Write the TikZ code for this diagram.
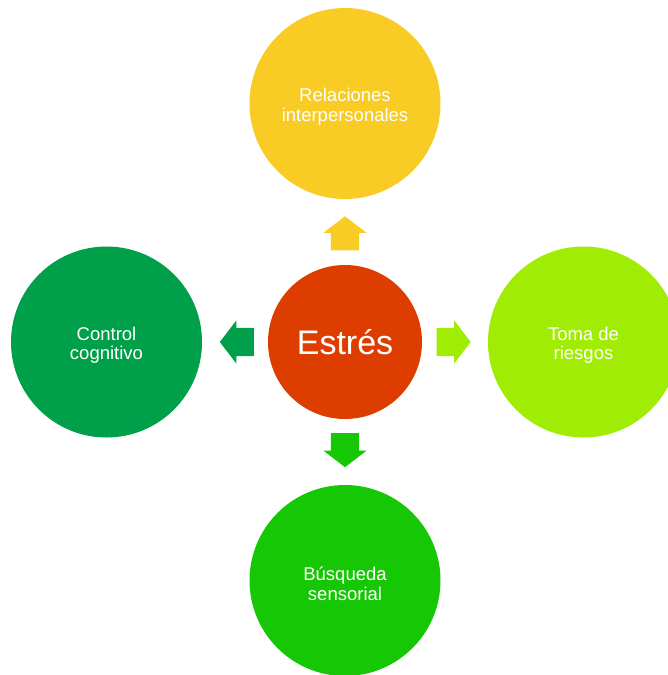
\documentclass[tikz,border=0pt]{standalone}
\usepackage{fontspec}
\setmainfont{Liberation Sans}
\usepackage{tikz}
\usetikzlibrary{shapes,shapes.arrows,calc,positioning}

\definecolor{stressred}{HTML}{DE3D00}
\definecolor{relyellow}{HTML}{F9CB25}
\definecolor{ctrlgreen}{HTML}{009F4A}
\definecolor{risklime}{HTML}{A1EC04}
\definecolor{searchgreen}{HTML}{15C705}
\newcommand{\lowerstrut}{\rule{0pt}{20pt}}

\begin{document}
\begin{tikzpicture}[x=1pt,y=1pt,node distance = 238.5pt]
	  \tikzstyle{bubble}=[circle,draw=none,text=white,minimum size=191pt,inner sep=0pt,
				  align=center,font=\fontsize{18.5}{19.5}\selectfont]
	  \tikzstyle{core}=[circle,draw=none,fill=stressred,text=white,minimum size=154pt,
				  inner sep=0pt,font=\fontsize{34}{40}\selectfont]
	  \tikzstyle{blockarrow}=[single arrow,draw=none,minimum height=34pt,minimum width=43pt,
				  single arrow head extend=7.5pt,single arrow tip angle=105,
				  inner xsep=0pt,inner ysep=14pt,outer sep=0pt]

	\clip (0,0) rectangle (668,-675);

	\node (center_center) [core] at (345,-342) {Estrés};
	\node (center_top) [bubble,fill=relyellow] [above of= center_center] {\lowerstrut Relaciones\\interpersonales};
	\node (left_center) [bubble,fill=ctrlgreen] [left of= center_center] {\lowerstrut Control\\cognitivo};
	\node (right_center) [bubble,fill=risklime] [right of= center_center] {\lowerstrut Toma de\\riesgos};
	\node (center_bottom) [bubble,fill=searchgreen] [below of= center_center] {\lowerstrut Búsqueda\\sensorial};

	\node (arrow_top) [blockarrow,fill=relyellow,rotate=90,above=14.5pt of center_center,anchor=tail] {};
	\node (arrow_left) [blockarrow,fill=ctrlgreen,rotate=180,left=14pt of center_center,anchor=tail] {};
	\node (arrow_right) [blockarrow,fill=risklime,right=14.5pt of center_center,anchor=tail] {};
	\node (arrow_bottom) [blockarrow,fill=searchgreen,rotate=270,below=14pt of center_center,anchor=tail] {};

		%\draw (center_center) -- (center_top);
	\end{tikzpicture}
\end{document}
